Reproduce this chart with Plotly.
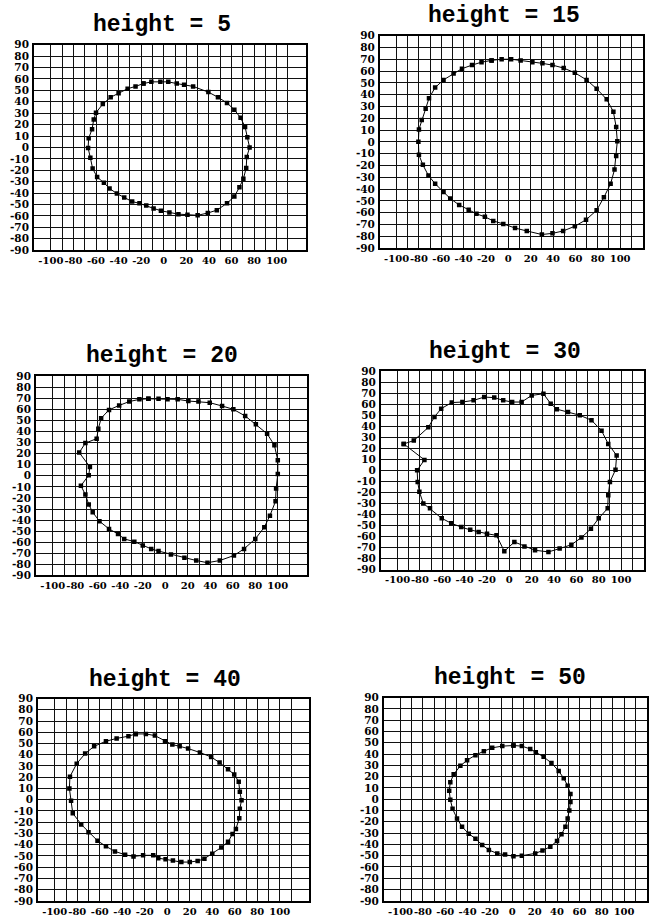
import plotly.graph_objects as go

# ---------------- data ----------------
heights = [5, 15, 20, 30, 40, 50]

h5_x = [-18, -11, -3, 4, 11.5, 18, 26, 39.5, 48, 56, 62.5, 68, 72, 74, 76, 73.5, 73, 70.5, 67, 62.5,
        56, 47, 39, 30, 21, 13, 5, -2.5, -9, -15.5, -21.5, -28, -35, -41.5, -48, -53, -59, -63, -65,
        -67, -66.5, -63.5, -62, -60, -54, -47, -40, -32, -25]
h5_y = [56, 57.5, 57.5, 57.5, 56, 55, 53.5, 48.5, 44, 39, 33, 26, 18, 9, 0, -8.5, -18, -27.5, -35, -43,
        -49, -55, -57.5, -59.5, -59, -58.5, -57, -55.5, -53.5, -51, -49, -47.5, -44, -40.5, -36, -31,
        -26, -18.5, -9, -0.5, 8, 16, 24.5, 30.5, 38, 44, 47.5, 51.5, 53.5]

h15_x = [-15, -6, 2.5, 11, 21.5, 30.5, 39.5, 49.5, 59.5, 70, 79, 88, 94, 96.5, 97.5, 96.5, 95, 91.5,
         85.5, 79, 69.5, 59.5, 49, 39.5, 30, 16.5, 6, -4.5, -13.5, -21, -28.5, -35.5, -44, -52, -58,
         -65.5, -71.5, -76.5, -80, -80.5, -80, -77.5, -74, -71, -65.5, -58, -49, -41.5, -32.5, -24]
h15_y = [69, 70, 70, 69, 67.5, 66.5, 65, 62.5, 58.5, 52.5, 45, 36, 25.5, 12.5, 0.5, -12, -23.5, -35.5,
         -47, -58, -66, -71.5, -75.5, -77.5, -78.5, -75.5, -73, -69.5, -67, -63.5, -61, -57.5, -53.5,
         -48, -42.5, -35.5, -28.5, -19.5, -11, 0, 10.5, 18.5, 28, 37, 46, 52.5, 58, 62, 65, 67.5]

h20_x = [-15, -6, 2, 11, 20.5, 29.5, 39.5, 50.5, 60.5, 71, 80.5, 90.5, 97, 100, 100, 98.5, 98, 93, 88,
         80, 70, 61, 48.5, 37.5, 27.5, 17, 5, -6, -12.5, -20, -27.5, -36.5, -42, -50, -58.5, -64.5,
         -68, -71, -75, -68, -67, -76.5, -71, -61, -59.5, -57, -50, -41, -32, -23]
h20_y = [69.5, 69.5, 69, 69, 67.5, 67, 66, 63, 60, 54, 46.5, 38, 27.5, 14, 1.5, -11.5, -23, -36, -46.5,
         -57, -66, -72, -76.5, -78.5, -76.5, -74, -71, -68, -66, -63, -59.5, -57, -52.5, -48, -41,
         -33, -26, -17, -9, 0.5, 8, 21, 29.5, 33.5, 42.5, 52, 59.5, 63.5, 67, 69]

h30_x = [-94.5, -85.5, -72.5, -67, -61, -51.5, -42, -32, -22.5, -13.5, -5.5, 2.5, 11, 20, 30.5, 37,
         42.5, 52.5, 63, 73.5, 82.5, 88.5, 96, 95, 90, 88.5, 88, 80, 73, 64.5, 55.5, 45, 35, 23, 13.5,
         4.5, -4.5, -11.5, -20, -27.5, -35, -43, -52, -60.5, -71, -77, -80.5, -82, -82.5, -76]
h30_y = [24, 27, 39, 48.5, 56, 61.5, 62, 63.5, 66.5, 66, 63.5, 62, 62, 68, 69.5, 60.5, 55.5, 53, 50,
         45.5, 36, 24, 13.5, 0.5, -10.5, -22.5, -34.5, -43.5, -53, -61, -67.5, -71, -74, -72.5, -69,
         -65, -73.5, -59, -57.5, -56, -54, -51.5, -48, -43.5, -34.5, -30, -19.5, -10.5, 0, 9.5]

h40_x = [-28, -19, -11, -2, 4.5, 11, 18.5, 29, 39, 46.5, 54, 59.5, 63.5, 64.5, 66, 64.5, 64, 61, 58,
         54, 48, 40, 33, 27, 20, 12.5, 5, -1.5, -8, -12.5, -21.5, -30, -37.5, -46.5, -54.5, -62, -70,
         -76.5, -84, -85.5, -87, -86.5, -80.5, -73, -65, -54.5, -45, -34.5]
h40_y = [58.5, 58.5, 57, 52, 49, 47.5, 45.5, 42, 38, 33, 27, 22.5, 16, 7, -0.5, -8, -16.5, -26,
         -30.5, -37.5, -42.5, -48, -52.5, -54.5, -55.5, -55.5, -54, -53, -52, -49.5, -49.5, -50.5,
         -49, -46, -41.5, -36.5, -29, -22, -12, -1, 10, 20.5, 32, 41, 47.5, 52, 54.5, 56.5]

h50_x = [1, 8.5, 16, 21, 28, 35, 41.5, 46, 49.5, 52, 52, 51, 49.5, 47.5, 44, 40, 34, 27, 20.5, 8.5,
         1, -6.5, -13.5, -21, -27, -33, -39, -45, -49.5, -53.5, -55.5, -56.5, -55.5, -52.5, -46.5,
         -40.5, -33, -25.5, -18, -9]
h50_y = [47.5, 47, 44.5, 41.5, 37.5, 32, 25, 18.5, 12, 4.5, -2.5, -10, -17, -24.5, -31, -37, -42,
         -45.5, -48, -50, -50.5, -49, -48, -45, -40.5, -35, -30.5, -24.5, -17, -8.5, -0.5, 7.5, 15,
         22, 29.5, 34.5, 39, 42.5, 45.5, 47]

series_x = [h5_x, h15_x, h20_x, h30_x, h40_x, h50_x]
series_y = [h5_y, h15_y, h20_y, h30_y, h40_y, h50_y]

x_tick_values = [-100, -80, -60, -40, -20, 0, 20, 40, 60, 80, 100]
x_tick_labels = ["-100", "-80", "-60", "-40", "-20", "0", "20", "40", "60", "80", "100"]
x_grid_values = [-100, -90, -80, -70, -60, -50, -40, -30, -20, -10, 0, 10, 20, 30, 40, 50, 60, 70,
                 80, 90, 100, 110]
y_tick_values = [90, 80, 70, 60, 50, 40, 30, 20, 10, 0, -10, -20, -30, -40, -50, -60, -70, -80, -90]
y_tick_labels = ["90", "80", "70", "60", "50", "40", "30", "20", "10", "0", "-10", "-20", "-30",
                 "-40", "-50", "-60", "-70", "-80", "-90"]

# ---------------- layout (pixel geometry) ----------------
W, H = 649, 918
# (left px, right px, top px, bottom px, x range)
panels = [
    (34, 307, 39.3, 247.3, [-115, 126]),
    (381, 645, 30, 245.3, [-115, 120.5]),
    (36, 308, 375, 577, [-115, 126]),
    (382, 646, 370, 571, [-115, 120.5]),
    (38, 310, 701.7, 906.7, [-115, 126]),
    (385, 649, 700.7, 906.7, [-115, 120.5]),
]
title_pos = [(162, 19), (506, 10), (162, 355), (507, 351), (166, 683), (512, 681)]

fig = go.Figure()
xtick_font = dict(family="DejaVu Serif", size=10, color="black", weight="bold")
ytick_font = dict(family="DejaVu Serif", size=10.5, color="black", weight="bold")

for i, (xs, ys) in enumerate(zip(series_x, series_y)):
    n = "" if i == 0 else str(i + 1)
    fig.add_trace(go.Scatter(
        x=xs + xs[:1], y=ys + ys[:1], mode="lines+markers",
        line=dict(color="black", width=1),
        marker=dict(symbol="square", size=4.5, color="black"),
        xaxis="x" + n, yaxis="y" + n, showlegend=False, hoverinfo="skip"))

    l, r, t, b, xr = panels[i]
    fig.layout["xaxis" + n] = dict(
        domain=[l / W, r / W], range=xr, anchor="y" + n,
        tickmode="array", tickvals=x_tick_values, ticktext=x_tick_labels,
        tickangle=0,
        showgrid=False, zeroline=False, ticks="",
        minor=dict(tickmode="array", tickvals=x_grid_values, showgrid=True,
                   gridcolor="#111", gridwidth=1.3, ticks=""),
        showline=True, mirror=True, linecolor="black", linewidth=1.6,
        tickfont=xtick_font, ticklabelstandoff=0, fixedrange=True)
    fig.layout["yaxis" + n] = dict(
        domain=[1 - b / H, 1 - t / H], range=[-90, 90], anchor="x" + n,
        tickmode="array", tickvals=y_tick_values, ticktext=y_tick_labels,
        showgrid=True, gridcolor="#111", gridwidth=1.3, zeroline=False, ticks="",
        showline=True, mirror=True, linecolor="black", linewidth=1.6,
        tickfont=ytick_font, ticklabelstandoff=1, fixedrange=True)

    tx, ty = title_pos[i]
    fig.add_annotation(
        x=tx / W, y=1 - ty / H, xref="paper", yref="paper", showarrow=False,
        text="<b>height = %d</b>" % heights[i], xanchor="center", yanchor="middle",
        font=dict(family="Liberation Mono", size=23, color="black"))

fig.update_layout(width=W, height=H, margin=dict(l=0, r=0, t=0, b=0),
                  paper_bgcolor="white", plot_bgcolor="white")

fig.write_html("out.html", config={"displayModeBar": False},
               post_script="document.body.style.margin='0';document.body.style.overflow='hidden';")
